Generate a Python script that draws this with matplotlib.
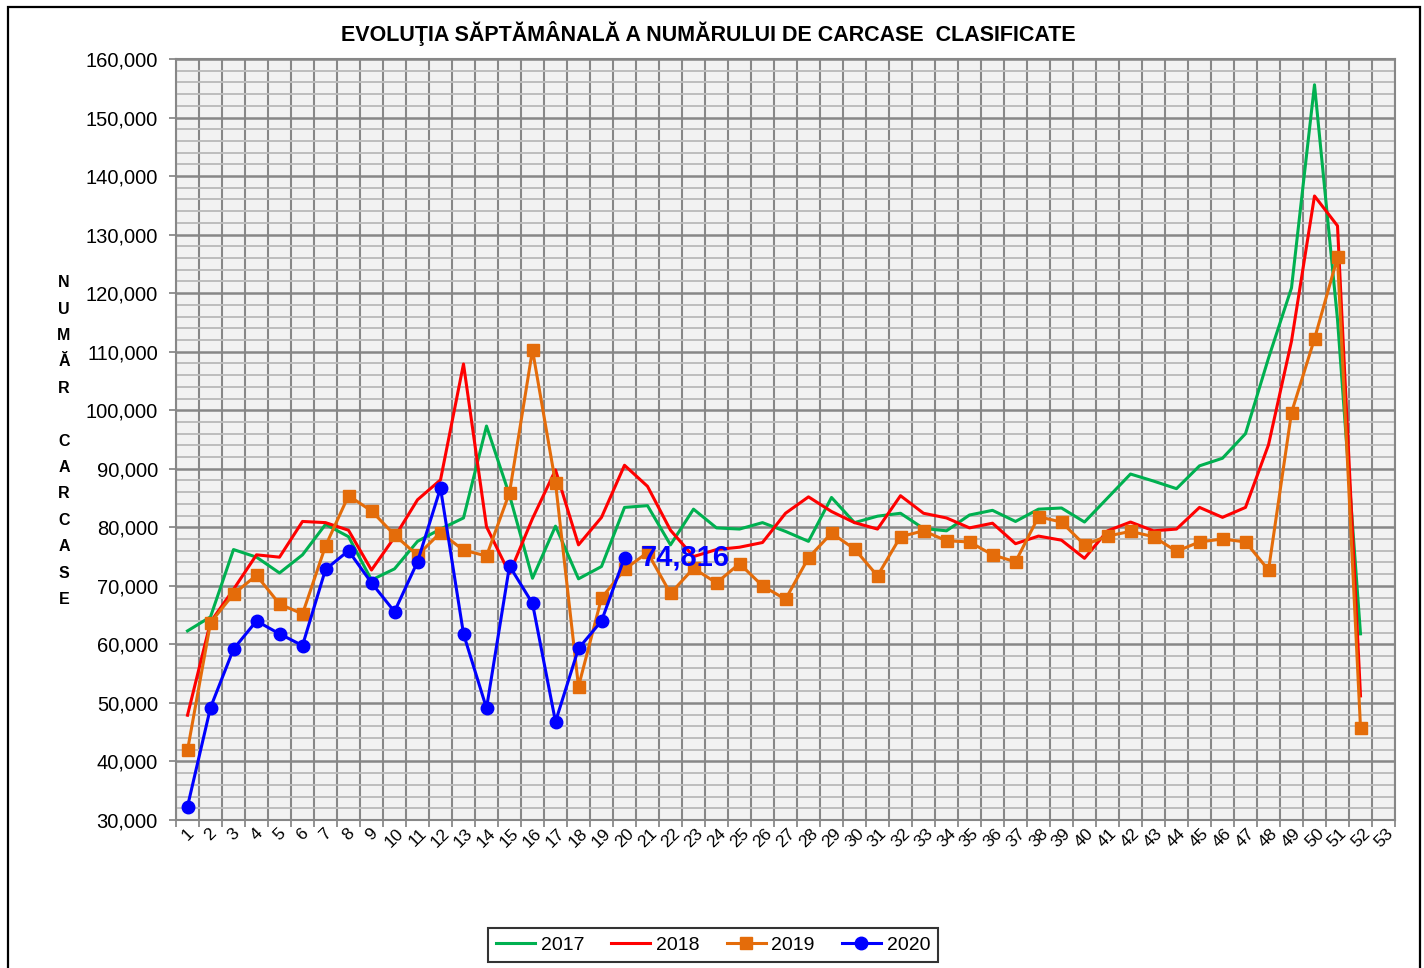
import matplotlib
matplotlib.use('Agg')
import matplotlib.pyplot as plt
import matplotlib.ticker as mticker
from matplotlib.patches import Rectangle
import numpy as np

plt.rcParams['font.family'] = ['Liberation Sans', 'DejaVu Sans']

# saptamani 1..53
weeks = list(range(1, 54))

y2017 = [62300, 64700, 76200, 74900, 72200, 75300, 80500, 78400, 71000, 72900,
         77600, 79700, 81600, 97300, 85500, 71300, 80200, 71200, 73300, 83400,
         83700, 77000, 83100, 79900, 79700, 80800, 79300, 77600, 85100, 80800,
         81900, 82400, 79800, 79400, 82100, 82900, 81000, 83100, 83300, 80900,
         85000, 89100, 87900, 86600, 90500, 91800, 96000, 108900, 120900, 155600,
         115500, 61800]

y2018 = [47900, 63800, 69400, 75300, 74900, 81000, 80800, 79500, 72700, 78300,
         84700, 88100, 107900, 80100, 72100, 81500, 89800, 77000, 81700, 90600,
         87000, 79500, 75000, 76200, 76600, 77400, 82400, 85200, 82700, 80800,
         79700, 85400, 82400, 81600, 79900, 80700, 77200, 78500, 77800, 74700,
         79400, 80900, 79400, 79700, 83400, 81700, 83400, 94100, 111800, 136600,
         131500, 51200]

y2019 = [41900, 63700, 68600, 71800, 66900, 65200, 76800, 85400, 82800, 78700,
         75200, 79100, 76100, 75100, 85900, 110300, 87600, 52800, 67900, 72800,
         75700, 68700, 73000, 70500, 73800, 70000, 67700, 74800, 79000, 76300,
         71700, 78400, 79400, 77700, 77500, 75300, 74100, 81800, 80900, 77000,
         78500, 79300, 78400, 75900, 77500, 78000, 77500, 72700, 99600, 112200,
         126100, 45800]

y2020 = [32300, 49200, 59200, 64000, 61800, 59800, 72800, 76000, 70500, 65600,
         74100, 86700, 61800, 49100, 73400, 67000, 46800, 59300, 64000, 74816]

W, H = 1424, 968
fig = plt.figure(figsize=(W / 100, H / 100), dpi=100)
ax = fig.add_axes([176 / W, 1 - 820 / H, (1395 - 176) / W, (820 - 59) / H])
ax.set_facecolor('#f2f2f2')

ax.plot(weeks[:len(y2017)], y2017, color='#00b050', lw=2.2, label='2017', zorder=3)
ax.plot(weeks[:len(y2018)], y2018, color='#ff0000', lw=2.2, label='2018', zorder=4)
ax.plot(weeks[:len(y2019)], y2019, color='#e46c0a', lw=2.2, marker='s', markersize=9,
        label='2019', zorder=5)
ax.plot(weeks[:len(y2020)], y2020, color='#0000ff', lw=2.2, marker='o', markersize=9,
        label='2020', zorder=6)

ax.annotate(f'{y2020[-1]:,}', xy=(len(y2020), y2020[-1]), xytext=(12, 0),
            textcoords='offset points', va='center', ha='left',
            color='#0000ff', fontsize=21, fontweight='bold', zorder=7)

ax.set_xlim(0.5, 53.5)
ax.set_ylim(30000, 160000)

ax.set_xticks(weeks)
ax.set_xticklabels([str(w) for w in weeks], rotation=45, ha='center', fontsize=12.5)
ax.xaxis.set_minor_locator(mticker.FixedLocator(np.arange(0.5, 54, 1)))
ax.tick_params(axis='x', which='major', length=0, pad=4)
ax.tick_params(axis='x', which='minor', length=5, color='#808080', width=1.2)

ax.yaxis.set_major_locator(mticker.MultipleLocator(10000))
ax.yaxis.set_minor_locator(mticker.MultipleLocator(2000))
ax.yaxis.set_major_formatter(mticker.FuncFormatter(lambda v, p: f'{int(v):,}'))
ax.tick_params(axis='y', which='major', labelsize=14.5, length=5, color='#808080',
               width=1.2, pad=8)
ax.tick_params(axis='y', which='minor', length=0)

ax.grid(axis='y', which='minor', color='#bdbdbd', lw=1.4, zorder=0)
ax.grid(axis='y', which='major', color='#878787', lw=1.8, zorder=1)
ax.grid(axis='x', which='minor', color='#878787', lw=1.5, zorder=1)
ax.grid(axis='x', which='major', visible=False)
ax.set_axisbelow(True)

for s in ax.spines.values():
    s.set_color('#878787')
    s.set_linewidth(1.5)

fig.text(708 / W, 1 - 34 / H, 'EVOLUŢIA SĂPTĂMÂNALĂ A NUMĂRULUI DE CARCASE  CLASIFICATE',
         ha='center', va='center', fontsize=15.5, fontweight='bold')

ylabel = '\n'.join(list('NUMĂR') + [''] + list('CARCASE'))
fig.text(64 / W, 1 - 441 / H, ylabel, ha='center', va='center', fontsize=11.5,
         fontweight='bold', linespacing=1.95, multialignment='center')

leg = fig.legend(loc='center', bbox_to_anchor=(713 / W, 1 - 945 / H), ncol=4,
                 fontsize=14, frameon=True, fancybox=False, edgecolor='black',
                 handlelength=2.0, handletextpad=0.3, columnspacing=1.4,
                 borderpad=0.4)
leg.get_frame().set_linewidth(1.5)

fig.patches.append(Rectangle((8 / W, -0.05), (1420 - 8) / W, 1 - 7 / H + 0.05,
                             transform=fig.transFigure, fill=False,
                             edgecolor='black', lw=1.6))

fig.savefig('out.png', dpi=100)
